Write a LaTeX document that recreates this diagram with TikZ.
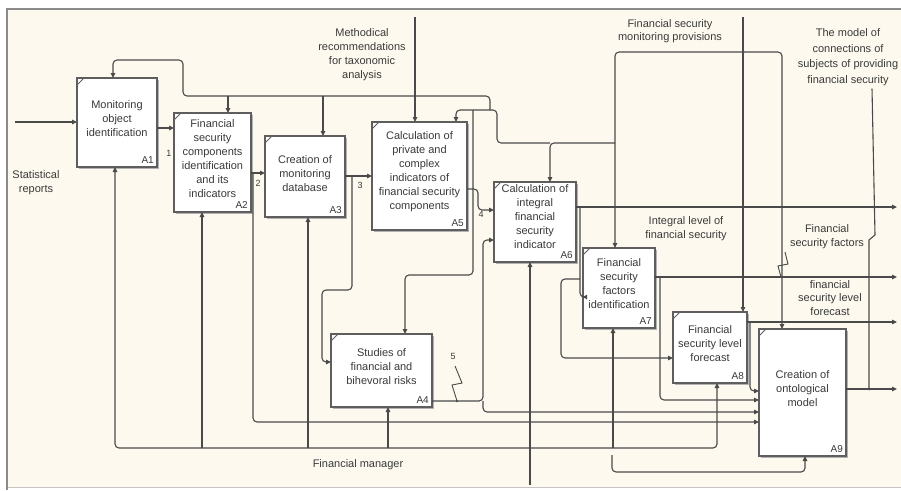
\documentclass[tikz,border=0pt]{standalone}
\usepackage{fontspec}
\setmainfont{Liberation Sans}
\usetikzlibrary{arrows.meta,shadows}
\definecolor{bgc}{HTML}{FDF9EE}
\definecolor{linec}{HTML}{4A4A4A}
\definecolor{boxc}{HTML}{5E5E5E}
\definecolor{txtc}{HTML}{3A3A3A}
\definecolor{framec}{HTML}{8A8A8A}
\begin{document}
\begin{tikzpicture}[x=1pt,y=-1pt,
  ln/.style={draw=linec, line width=1.1pt, rounded corners=4pt},
  arr/.style={ln, -{Triangle[length=5pt,width=4.5pt]}},
  fbox/.style={draw=boxc, line width=1.3pt, fill=white, inner sep=0pt, outer sep=0pt,
     drop shadow={shadow xshift=1.8pt, shadow yshift=-1.8pt, fill=black!30, opacity=1}},
  btxt/.style={align=center, text=txtc, font=\fontsize{11}{14}\selectfont, inner sep=0pt},
  idt/.style={text=txtc, font=\fontsize{10}{12}\selectfont, inner sep=0pt, anchor=south east},
  lbl/.style={align=center, text=txtc, font=\fontsize{11}{14}\selectfont, inner sep=0pt},
  num/.style={text=txtc, font=\fontsize{9}{10}\selectfont, inner sep=0pt},
  jdot/.style={circle, fill=linec, inner sep=0pt, minimum size=3pt}
]
\useasboundingbox (0,0) rectangle (901,490);
\fill[white] (0,0) rectangle (901,490);
\fill[bgc] (8,9) rectangle (901,487);
\draw[framec!50, line width=0.8pt] (8,487) -- (901,487);
\draw[framec, line width=1.5pt] (7,490) -- (7,9) -- (901,9);

% boxes
\node[fbox, minimum width=80pt, minimum height=89pt] (A1) at (117,122.5) {};
\node[fbox, minimum width=77pt, minimum height=99pt] (A2) at (212.5,162.5) {};
\node[fbox, minimum width=80pt, minimum height=81pt] (A3) at (305,176.5) {};
\node[fbox, minimum width=95pt, minimum height=108pt] (A5) at (419.5,176) {};
\node[fbox, minimum width=82pt, minimum height=80pt] (A6) at (535,222) {};
\node[fbox, minimum width=72pt, minimum height=80pt] (A7) at (619,288) {};
\node[fbox, minimum width=74pt, minimum height=71pt] (A8) at (710,347.5) {};
\node[fbox, minimum width=87pt, minimum height=127pt] (A9) at (802.5,392.5) {};
\node[fbox, minimum width=101pt, minimum height=73pt] (A4) at (381.5,370.5) {};

\foreach \b in {A1,A2,A3,A4,A5,A6,A7,A8,A9}{
  \draw[boxc, line width=0.8pt] ([yshift=-7pt]\b.north west) -- ([xshift=7pt]\b.north west);
  \node[idt] (\b id) at ([xshift=-3pt,yshift=3pt]\b.south east) {\b};
}

\node[btxt] (A1t) at ([yshift=4pt]A1.center) {Monitoring\\object\\identification};
\node[btxt] (A2t) at ([yshift=4pt]A2.center) {Financial\\security\\components\\identification\\and its\\indicators};
\node[btxt] (A3t) at ([yshift=3pt]A3.center) {Creation of\\monitoring\\database};
\node[btxt] (A5t) at ([yshift=4pt]A5.center) {Calculation of\\private and\\complex\\indicators of\\financial security\\components};
\node[btxt] (A6t) at ([yshift=5pt]A6.center) {Calculation of\\integral\\financial\\security\\indicator};
\node[btxt] (A7t) at ([yshift=4pt]A7.center) {Financial\\security\\factors\\identification};
\node[btxt] (A8t) at ([yshift=4pt]A8.center) {Financial\\security level\\forecast};
\node[btxt] (A9t) at ([yshift=4pt]A9.center) {Creation of\\ontological\\model};
\node[btxt] (A4t) at ([yshift=4pt]A4.center) {Studies of\\financial and\\bihevoral risks};

% outer labels
\node[lbl] (Lstat) at (36,183) {Statistical\\reports};
\node[lbl] (Lmeth) at (362,55) {Methodical\\recommendations\\for taxonomic\\analysis};
\node[lbl, font=\fontsize{11}{13.3}\selectfont] (Lprov) at (670,31.5) {Financial security\\monitoring provisions};
\node[lbl, font=\fontsize{11}{15.5}\selectfont] (Lmodel) at (848,57) {The model of\\connections of\\subjects of providing\\financial security};
\node[lbl] (Lint) at (686,229) {Integral level of\\financial security};
\node[lbl] (Lfac) at (827,237) {Financial\\security factors};
\node[lbl, font=\fontsize{11}{13.5}\selectfont] (Lfor) at (830,298) {financial\\security level\\forecast};
\node[lbl] (Lman) at (358,465) {Financial manager};
\node[num] (n1) at (169,153) {1};
\node[num] (n2) at (258,183) {2};
\node[num] (n3) at (360,185) {3};
\node[num] (n4) at (481,214) {4};
\node[num] (n5) at (453,356) {5};

% free ends
\coordinate (inStat) at (15,122);
\coordinate (topMeth) at (415,17);
\coordinate (topProv) at (743,17);
\coordinate (j1) at (743,52);
\coordinate (botMan) at (530,485);

% inputs
\draw[arr] (inStat) -- (A1.west |- 0,122);
\draw[arr] (A1.east |- 0,128) -- (A2.west |- 0,128);
\draw[arr] (A2.east |- 0,173) -- (A3.west |- 0,173);
\draw[arr] (253,173) |- (A9.west |- 0,422);
\draw[arr] (A3.east |- 0,176) -- (A5.west |- 0,176);
\draw[arr] (352,176) |- (322,290) |- (A4.west |- 0,362);
\draw[arr] (A5.east |- 0,189) -| (478,210) -- (A6.west |- 0,210);
\draw[arr] (A4.east |- 0,401) -| (483,240) -- (A6.west |- 0,240);
\draw[arr] (483,401) |- (A9.west |- 0,412);
\draw[arr] (A6.east |- 0,207) -- (897,207);
\draw[ln, -{Triangle[length=4pt,width=4.5pt]}] (580,207) |- (A7.west |- 0,297);
\draw[arr] (580,279) -| (561,358) -- (A8.west |- 0,358);
\draw[arr] (A7.east |- 0,277) -- (897,277);
\draw[arr] (660,277) |- (A9.west |- 0,400);
\draw[arr] (A8.east |- 0,322) -- (897,322);
\draw[arr] (750,322) |- (A9.west |- 0,391);
\draw[arr] (A9.east |- 0,389) -- (897,389);
\draw[ln, rounded corners=0pt] (Lmodel.south -| 872,0) ++(0,3) -- (875,235) -- (869,240) -- (869,389);
\node[jdot] (d2) at (869,389) {};

% controls
\draw[arr] (topMeth) -- (A5.north -| topMeth);
\draw[arr] (topProv) -- (A8.north -| topProv);
\node[jdot] (d1) at (j1) {};
\draw[arr] (j1) -| (A7.north -| 615,0);
\draw[arr] (j1) -| (A9.north -| 782,0);
\draw[arr] (615,143) -| (A6.north -| 550,0);
\draw[arr] (550,143) -| (497,110) -| (A5.north -| 456,0);
\draw[arr] (473,110) |- (405,275) -- (A4.north -| 405,0);
\draw[arr] (490,110) |- (183,96) |- (113,60) -- (A1.north -| 113,0);
\draw[arr] (228,96) -- (A2.north -| 228,0);
\draw[arr] (323,96) -- (A3.north -| 323,0);

% squiggles
\draw[ln, rounded corners=0pt, line width=0.9pt] (457,401) -- (452,385) -- (462,383) -- (455,366);
\node[jdot, minimum size=2.5pt] (d3) at (457,401) {};
\draw[ln, rounded corners=0pt, line width=0.9pt] (781,277) -- (778,266) -- (788,264) -- (785,252);

% mechanisms
\draw[arr] (botMan) -- (A6.south -| botMan);
\draw[arr] (530,448) -| (A1.south -| 115,0);
\draw[arr] (202,448) -- (A2.south -| 202,0);
\draw[arr] (308,448) -- (A3.south -| 308,0);
\draw[arr] (388,448) -- (A4.south -| 388,0);
\draw[arr] (530,448) -| (A8.south -| 717,0);
\draw[arr] (613,448) -- (A7.south -| 613,0);
\draw[arr] (612,455) |- (805,472) -- (A9.south -| 805,0);
\end{tikzpicture}
\end{document}
